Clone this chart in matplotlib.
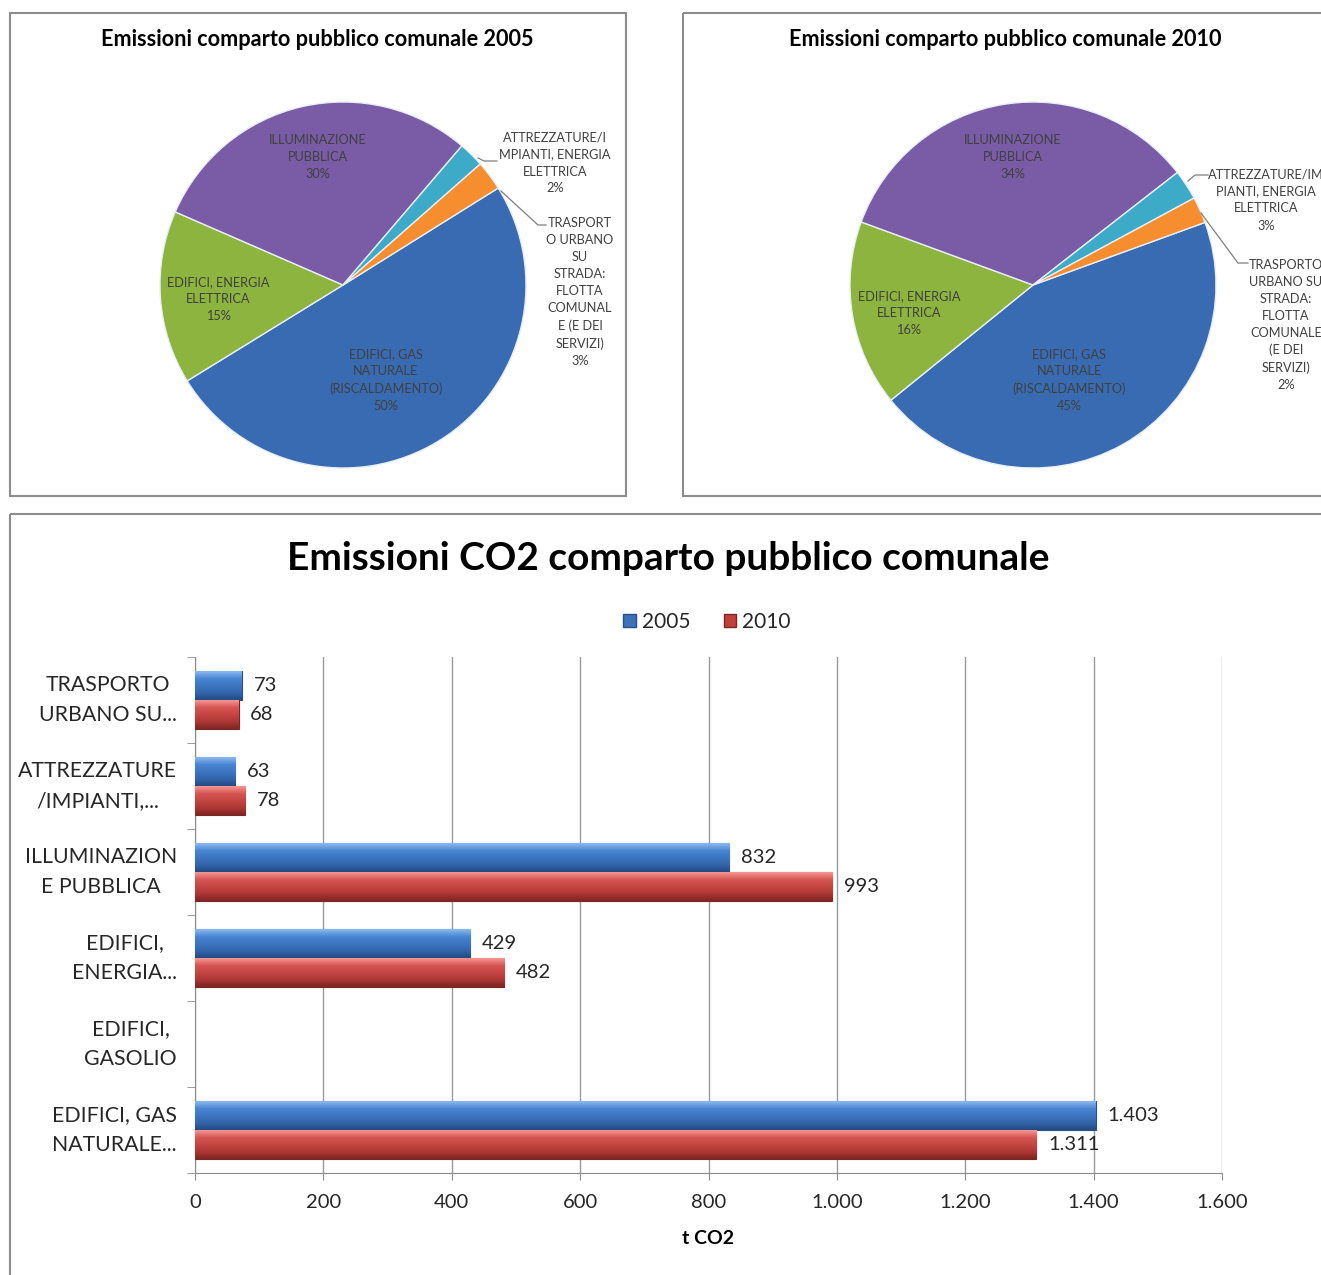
import numpy as np
import matplotlib
matplotlib.use("Agg")
import matplotlib.pyplot as plt
from matplotlib.patches import Rectangle, Patch
from matplotlib.colors import LinearSegmentedColormap

plt.rcParams['font.family'] = ['Lato', 'DejaVu Sans']

W, H = 1321, 1275
fig = plt.figure(figsize=(W / 100, H / 100), dpi=100)
fig.patch.set_facecolor('white')

# data (t CO2), order = Excel series order (bottom -> top in bar chart)
bar_labels = ["EDIFICI, GAS\nNATURALE...", "EDIFICI,\nGASOLIO", "EDIFICI,\nENERGIA...",
              "ILLUMINAZION\nE PUBBLICA", "ATTREZZATURE\n/IMPIANTI,...", "TRASPORTO\nURBANO SU..."]
val_2005 = [1403, 0, 429, 832, 63, 73]
val_2010 = [1311, 0, 482, 993, 78, 68]
x_ticks = [0, 200, 400, 600, 800, 1000, 1200, 1400, 1600]

pie_names_2005 = ["EDIFICI, GAS\nNATURALE\n(RISCALDAMENTO)", "EDIFICI, GASOLIO",
                  "EDIFICI, ENERGIA\nELETTRICA", "ILLUMINAZIONE\nPUBBLICA",
                  "ATTREZZATURE/I\nMPIANTI, ENERGIA\nELETTRICA",
                  "TRASPORT\nO URBANO\nSU\nSTRADA:\nFLOTTA\nCOMUNAL\nE (E DEI\nSERVIZI)"]
pie_names_2010 = ["EDIFICI, GAS\nNATURALE\n(RISCALDAMENTO)", "EDIFICI, GASOLIO",
                  "EDIFICI, ENERGIA\nELETTRICA", "ILLUMINAZIONE\nPUBBLICA",
                  "ATTREZZATURE/IM\nPIANTI, ENERGIA\nELETTRICA",
                  "TRASPORTO\nURBANO SU\nSTRADA:\nFLOTTA\nCOMUNALE\n(E DEI\nSERVIZI)"]
pie_colors = ['#386bb2', '#c0504d', '#8db43f', '#7a5ba5', '#3dabc8', '#f68e2f']


def it_fmt(v):
    return f"{v:,}".replace(",", ".")


# background layer in pixel coords for boxes, titles, pie labels
bg = fig.add_axes([0, 0, 1, 1], zorder=5)
bg.set_xlim(0, W)
bg.set_ylim(H, 0)
bg.axis('off')
box_col = '#8c8c8c'
for (x0, y0, x1, y1) in [(10, 13, 626, 496), (683, 13, 1340, 496), (10, 514, 1340, 1300)]:
    bg.add_patch(Rectangle((x0, y0), x1 - x0, y1 - y0, fill=False, ec=box_col, lw=1.5))


def draw_pie(vals, names, cx, cy, r, start, title, title_x, label_pos, leaders):
    ax = fig.add_axes([(cx - r) / W, 1 - (cy + r) / H, 2 * r / W, 2 * r / H])
    keep = [i for i, v in enumerate(vals) if v > 0]
    total = sum(vals)
    ax.pie([vals[i] for i in keep], colors=[pie_colors[i] for i in keep],
           startangle=start, counterclock=False, radius=1,
           wedgeprops=dict(edgecolor='#e8eef6', linewidth=1.0))
    ax.set_xlim(-1, 1)
    ax.set_ylim(-1, 1)
    ax.set_aspect('auto')
    ax.axis('off')
    for i, (px, py) in zip(keep, label_pos):
        pct = round(vals[i] / total * 100)
        bg.text(px, py, f"{names[i]}\n{pct}%", ha='center', va='center',
                multialignment='center', fontsize=9.2, color='#404040', linespacing=1.5)
    for pts in leaders:
        xs, ys = zip(*pts)
        bg.plot(xs, ys, color='#7f7f7f', lw=0.9)
    bg.text(title_x, 40, title, ha='center', va='center', fontsize=15.6, fontweight='bold')


draw_pie(val_2005, pie_names_2005, 343, 285, 183, 32,
         "Emissioni comparto pubblico comunale 2005", 317,
         [(386, 380), (218, 299), (318, 157), (555, 163), (580, 292)],
         [[(478, 158), (484, 161), (497, 161)], [(501, 191), (538, 225), (546, 225)]])
draw_pie(val_2010, pie_names_2010, 1033, 285, 183, 20,
         "Emissioni comparto pubblico comunale 2010", 1005,
         [(1069, 380), (909, 313), (1013, 157), (1266, 200), (1286, 325)],
         [[(1188, 181), (1195, 175), (1208, 175)], [(1201, 213), (1238, 263), (1248, 263)]])

# bar chart
ax = fig.add_axes([195 / W, 1 - 1173 / H, (1222 - 195) / W, (1173 - 657) / H])
y = np.arange(len(bar_labels))
h = 0.33
b05 = ax.barh(y + h / 2 + 0.005, val_2005, height=h, color='#3d72ba', edgecolor='#2a4f86', lw=0.8, zorder=3)
b10 = ax.barh(y - h / 2 - 0.005, val_2010, height=h, color='#c0403d', edgecolor='#7e2523', lw=0.8, zorder=3)


def shade(bars, stops):
    cmap = LinearSegmentedColormap.from_list("s", stops)
    grad = np.linspace(0, 1, 64).reshape(-1, 1)
    for b in bars:
        w = b.get_width()
        if w == 0:
            b.set_visible(False)
            continue
        x0, y0, hh = b.get_x(), b.get_y(), b.get_height()
        im = ax.imshow(grad, cmap=cmap, origin='lower', aspect='auto', interpolation='bicubic',
                       extent=[x0, x0 + w, y0, y0 + hh], zorder=3.5)
        im.set_clip_path(b)


shade(b05, ['#254a85', '#3266ab', '#3d76c2', '#4a86d2', '#8abbf0'])
shade(b10, ['#7e2523', '#ad3734', '#c44643', '#d65653', '#f59793'])

for yy, v in zip(y + h / 2, val_2005):
    if v:
        ax.text(v + 18, yy, it_fmt(v), va='center', ha='left', fontsize=14.5, color='#262626', zorder=4)
for yy, v in zip(y - h / 2, val_2010):
    if v:
        ax.text(v + 18, yy, it_fmt(v), va='center', ha='left', fontsize=14.5, color='#262626', zorder=4)

ax.set_xlim(0, 1600)
ax.set_ylim(-0.5, len(bar_labels) - 0.5)
ax.set_xticks(x_ticks)
ax.set_xticklabels([it_fmt(t) for t in x_ticks], fontsize=14.5, color='#262626')
ax.set_yticks(y)
ax.set_yticklabels(bar_labels, fontsize=15.3, color='#262626', multialignment='center', linespacing=1.62)
for lbl in ax.get_yticklabels():
    lbl.set_va('center')
ax.set_yticks(np.arange(-0.5, len(bar_labels)), minor=True)
ax.tick_params(axis='y', which='major', length=0, pad=13)
ax.tick_params(axis='y', which='minor', length=6, color=box_col, direction='out')
ax.tick_params(axis='x', length=5, color=box_col, direction='out', pad=10)
ax.grid(axis='x', color='#9a9a9a', lw=1.0, zorder=0)
ax.set_axisbelow(True)
for s in ['top', 'right']:
    ax.spines[s].set_visible(False)
for s in ['left', 'bottom']:
    ax.spines[s].set_color(box_col)
ax.set_xlabel("t CO2", fontsize=14, fontweight='bold', labelpad=14)

bg.text(668, 558, "Emissioni CO2 comparto pubblico comunale", ha='center', va='center',
        fontsize=28, fontweight='bold')

handles = [Patch(facecolor='#3d72ba', edgecolor='#2a4f86'), Patch(facecolor='#c0403d', edgecolor='#7e2523')]
fig.legend(handles, ["2005", "2010"], loc='center', bbox_to_anchor=(707 / W, 1 - 622 / H), ncol=2,
           frameon=False, fontsize=15, handlelength=0.6, handleheight=0.6, handletextpad=0.3,
           columnspacing=1.6, labelcolor='#262626')

fig.savefig("out.png", dpi=100, facecolor='white')
